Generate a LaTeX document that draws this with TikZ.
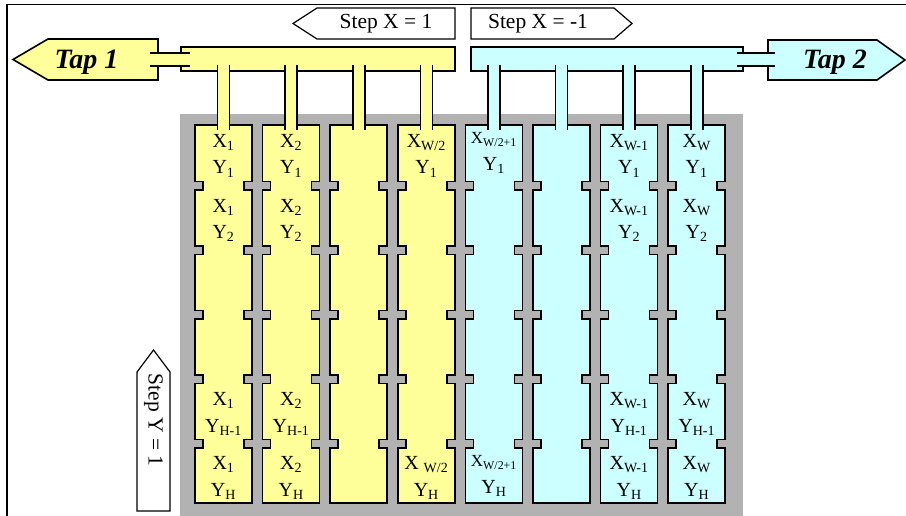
\documentclass[tikz,border=0pt]{standalone}
\usepackage{fontspec}
\setmainfont{Liberation Serif}
\definecolor{padyellow}{RGB}{255,255,153}
\definecolor{padcyan}{RGB}{204,255,255}
\definecolor{diegray}{RGB}{178,178,178}
\newcommand{\cellxy}[2]{X\textsubscript{#1}\\Y\textsubscript{#2}}
\newcommand{\smallx}[1]{{\fontsize{17}{17}\selectfont X\textsubscript{#1}}}
\tikzset{
  frameline/.style={draw=black, line width=1.5pt},
  padline/.style={draw=black, line width=1.6pt, line join=miter},
  busbox/.style={padline, rectangle, inner sep=0pt},
  stepbox/.style={draw=black, line width=1.2pt, fill=white, line join=miter},
  steptext/.style={font=\fontsize{21.5}{24}\selectfont, inner sep=0pt, anchor=base},
  taptext/.style={font=\fontsize{28}{30}\selectfont\bfseries\itshape, inner sep=0pt, anchor=base},
  celltext/.style={font=\fontsize{20}{26.5}\selectfont, align=center, inner sep=0pt}
}
\begin{document}
\begin{tikzpicture}[x=1pt, y=-1pt]
  \useasboundingbox (0,0) rectangle (906,516);
  \draw[frameline] (7,516) -- (7,4.5) -- (906,4.5);

  % step arrows
  \draw[stepbox] (455,8) -- (317,8) -- (293,23.5) -- (317,39) -- (455,39) -- cycle;
  \node[steptext] (stepxpos) at (386,28.5) {Step X = 1};
  \draw[stepbox] (471,8) -- (614,8) -- (632,23.5) -- (614,39) -- (471,39) -- cycle;
  \node[steptext] (stepxneg) at (538,28.5) {Step X = -1};
  \draw[stepbox] (137,511) -- (137,372) -- (153.5,350) -- (170,372) -- (170,511) -- cycle;
  \node[steptext, anchor=center, rotate=-90] (stepy) at (153.5,420) {Step Y = 1};

  % die and pixel columns
  \fill[diegray] (180,114) rectangle (743,520);
  \foreach \i in {0,...,7}{
    \pgfmathsetmacro\colx{195+67.6*\i}
    \ifnum\i<4 \def\padcol{padyellow}\else\def\padcol{padcyan}\fi
    \draw[padline, fill=\padcol] (\colx,125)
      foreach \n in {181.5,246,310.5,375,439.5} { -- (\colx,\n) -- ++(8,0) -- ++(0,8.5) -- ++(-8,0) }
      -- (\colx,503) -- ++(57,0)
      foreach \n in {439.5,375,310.5,246,181.5} { -- (\colx+57,\n+8.5) -- ++(-8,0) -- ++(0,-8.5) -- ++(8,0) }
      -- (\colx+57,125) -- cycle;
  }

  % taps and buses
  \draw[padline, fill=padyellow] (158,39) -- (48,39) -- (13,59.5) -- (48,80) -- (158,80) -- cycle;
  \node[taptext] (tapone) at (86.5,68.5) {Tap 1};
  \draw[padline, fill=padcyan] (768,40) -- (877,40) -- (905,60) -- (877,80) -- (768,80) -- cycle;
  \node[taptext] (taptwo) at (835,68.5) {Tap 2};
  \node[busbox, fill=padyellow, minimum width=274pt, minimum height=24pt] (busleft) at (318,59) {};
  \node[busbox, fill=padcyan, minimum width=272pt, minimum height=24pt] (busright) at (607,59) {};
  \fill[padyellow] (150,53) rectangle (190,66);
  \draw[padline] (150,53) -- (190,53) (150,66) -- (190,66);
  \fill[padcyan] (737,53) rectangle (775,66);
  \draw[padline] (737,53) -- (775,53) (737,66) -- (775,66);

  % drops from bus to columns
  \foreach \i in {0,...,7}{
    \pgfmathsetmacro\dropx{223.5+67.6*\i}
    \ifnum\i<4 \def\padcol{padyellow}\else\def\padcol{padcyan}\fi
    \fill[\padcol] (\dropx-6,65) rectangle (\dropx+6,131);
    \draw[padline] (\dropx-6,65) -- (\dropx-6,130) (\dropx+6,65) -- (\dropx+6,130);
  }

  % pixel labels
  \foreach \ci/\ri/\xs/\ys in {0/0/1/1, 0/1/1/2, 0/4/1/H-1, 0/5/1/H,
      1/0/2/1, 1/1/2/2, 1/4/2/H-1, 1/5/2/H,
      6/0/W-1/1, 6/1/W-1/2, 6/4/W-1/H-1, 6/5/W-1/H,
      7/0/W/1, 7/1/W/2, 7/4/W/H-1, 7/5/W/H}{
    \pgfmathsetmacro\lx{223.5+67.6*\ci}
    \pgfmathsetmacro\ly{{155.75,220.5,285,349.5,414,478}[\ri]}
    \node[celltext] (cell-\ci-\ri) at (\lx,\ly) {\cellxy{\xs}{\ys}};
  }
  \node[celltext] (cell-3-0) at (426.3,155.75) {X\textsubscript{W/2}\\Y\textsubscript{1}};
  \node[celltext] (cell-3-5) at (426.3,478) {X \textsubscript{W/2}\\Y\textsubscript{H}};
  \node[celltext] (cell-4-0) at (493.9,153) {\smallx{W/2+1}\\Y\textsubscript{1}};
  \node[celltext] (cell-4-5) at (493.9,476) {\smallx{W/2+1}\\Y\textsubscript{H}};
\end{tikzpicture}
\end{document}
